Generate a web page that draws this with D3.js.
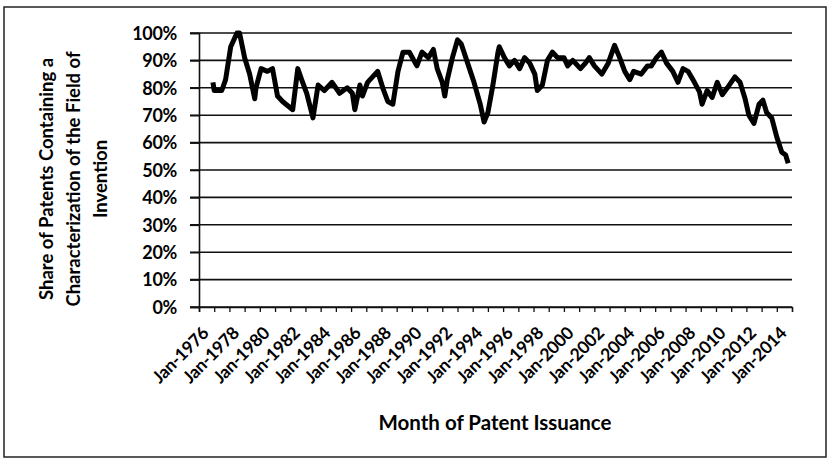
<!DOCTYPE html>
<html>
<head>
<meta charset="utf-8">
<script src="https://cdn.jsdelivr.net/npm/d3@7"></script>
<style>
  body { margin: 0; background: #fff; }
  text { font-family: Lato, "Open Sans", sans-serif; font-weight: bold; fill: #000; }
</style>
</head>
<body>
<div id="chart"></div>
<script>
// month of issuance and share of patents
var months = ["1976-12","1977-01","1977-07","1977-10","1978-02","1978-07","1978-09","1979-01","1979-05","1979-09",
  "1979-10","1980-02","1980-07","1980-11","1981-03","1981-07","1982-03","1982-07","1982-10","1983-02",
  "1983-07","1983-11","1984-04","1984-10","1985-04","1985-10","1986-02","1986-04","1986-08","1986-10",
  "1987-02","1987-08","1987-10","1988-02","1988-06","1988-10","1989-02","1989-06","1989-11","1990-05",
  "1990-09","1991-02","1991-06","1991-09","1992-01","1992-03","1992-05","1992-09","1993-01","1993-04",
  "1993-09","1994-02","1994-07","1994-10","1995-01","1995-05","1995-09","1995-10","1996-02","1996-06",
  "1996-10","1997-02","1997-06","1997-10","1998-02","1998-04","1998-08","1998-12","1999-04","1999-08",
  "2000-01","2000-04","2000-08","2001-02","2001-06","2001-09","2002-01","2002-07","2002-12","2003-05",
  "2003-09","2004-01","2004-05","2004-08","2005-02","2005-07","2005-10","2006-02","2006-06","2006-10",
  "2007-03","2007-07","2007-11","2008-03","2008-08","2008-12","2009-02","2009-06","2009-10","2010-02",
  "2010-06","2010-10","2011-04","2011-08","2011-12","2012-03","2012-07","2012-11","2013-02","2013-05",
  "2013-09","2014-01","2014-05","2014-08","2014-10"];
var shares = [0.82,0.79,0.79,0.83,0.95,1.00,1.00,0.91,0.85,0.76,
  0.80,0.87,0.86,0.87,0.77,0.75,0.72,0.87,0.83,0.78,
  0.69,0.81,0.79,0.82,0.78,0.80,0.78,0.72,0.81,0.77,
  0.82,0.85,0.86,0.80,0.75,0.74,0.86,0.93,0.93,0.88,
  0.93,0.91,0.94,0.87,0.82,0.77,0.83,0.91,0.975,0.96,
  0.89,0.82,0.74,0.675,0.71,0.81,0.93,0.95,0.91,0.88,
  0.90,0.87,0.91,0.89,0.85,0.79,0.81,0.90,0.93,0.91,
  0.91,0.88,0.90,0.87,0.89,0.91,0.88,0.85,0.89,0.955,
  0.91,0.86,0.83,0.86,0.85,0.88,0.88,0.91,0.93,0.89,
  0.86,0.82,0.87,0.86,0.82,0.785,0.74,0.79,0.765,0.82,
  0.775,0.80,0.84,0.82,0.76,0.70,0.67,0.74,0.755,0.71,
  0.69,0.62,0.565,0.555,0.525];
var yTicks = [0,0.1,0.2,0.3,0.4,0.5,0.6,0.7,0.8,0.9,1.0];
var yearTicks = d3.range(1976, 2015);

var parseMonth = d3.timeParse("%Y-%m");
var data = months.map(function(m, i) { return {date: parseMonth(m), value: shares[i]}; });

var W = 829, H = 463;
var svg = d3.select("#chart").append("svg")
    .attr("width", W)
    .attr("height", H);

// outer frame
svg.append("rect")
    .attr("x", 4).attr("y", 7)
    .attr("width", 822).attr("height", 450)
    .style("fill", "none")
    .style("stroke", "#222")
    .style("stroke-width", 1.5);

var x = d3.scaleTime()
    .domain([new Date(1976, 0, 1), new Date(2015, 0, 1)])
    .range([199, 792]);
var y = d3.scaleLinear()
    .domain([0, 1])
    .range([307, 33]);

// horizontal gridlines
svg.append("g")
  .selectAll("line")
  .data(yTicks)
  .enter()
  .append("line")
    .attr("x1", 190).attr("x2", 792)
    .attr("y1", function(d) { return y(d); })
    .attr("y2", function(d) { return y(d); })
    .style("stroke", "#111")
    .style("stroke-width", 1.6);

// Y axis
var yAxis = svg.append("g")
    .attr("transform", "translate(199,0)")
    .call(d3.axisLeft(y).tickValues(yTicks).tickSize(9).tickPadding(13).tickFormat(d3.format(".0%")));
yAxis.select(".domain").style("stroke", "#111").style("stroke-width", 1.6);
yAxis.selectAll(".tick line").style("stroke", "#111").style("stroke-width", 1.6);
yAxis.selectAll("text").style("font-size", "18px").style("letter-spacing", "-0.3px").attr("dy", "0.35em");

// X axis
var xAxis = svg.append("g")
    .attr("transform", "translate(0,307)")
    .call(d3.axisBottom(x)
      .tickValues(yearTicks.map(function(yr) { return new Date(yr, 0, 1); }))
      .tickSize(5)
      .tickFormat(function(d) { return d.getFullYear() % 2 === 0 ? d3.timeFormat("Jan-%Y")(d) : ""; }));
xAxis.select(".domain").style("stroke", "#111").style("stroke-width", 1.6);
xAxis.selectAll(".tick line").style("stroke", "#111").style("stroke-width", 1.3);
xAxis.selectAll("text")
    .style("font-size", "17.5px")
    .style("letter-spacing", "-0.3px")
    .attr("text-anchor", "end")
    .attr("x", 0).attr("y", 0).attr("dy", "0.35em")
    .attr("transform", "translate(6,23) rotate(-45)");

// the line
svg.append("path")
    .datum(data)
    .attr("d", d3.line()
      .x(function(d) { return x(d.date); })
      .y(function(d) { return y(d.value); }))
    .style("fill", "none")
    .style("stroke", "#000")
    .style("stroke-width", 5)
    .style("stroke-linejoin", "round");

// axis titles
svg.append("text")
    .attr("text-anchor", "middle")
    .attr("x", 495).attr("y", 430)
    .style("font-size", "20.5px")
    .text("Month of Patent Issuance");

var yTitle = ["Share of Patents Containing a", "Characterization of the Field of", "Invention"];
svg.append("g")
  .selectAll("text")
  .data(yTitle)
  .enter()
  .append("text")
    .attr("text-anchor", "middle")
    .attr("transform", function(d, i) { return "translate(" + (53 + i * 27) + ",179) rotate(-90)"; })
    .style("font-size", "18.5px")
    .text(function(d) { return d; });
</script>
</body>
</html>
